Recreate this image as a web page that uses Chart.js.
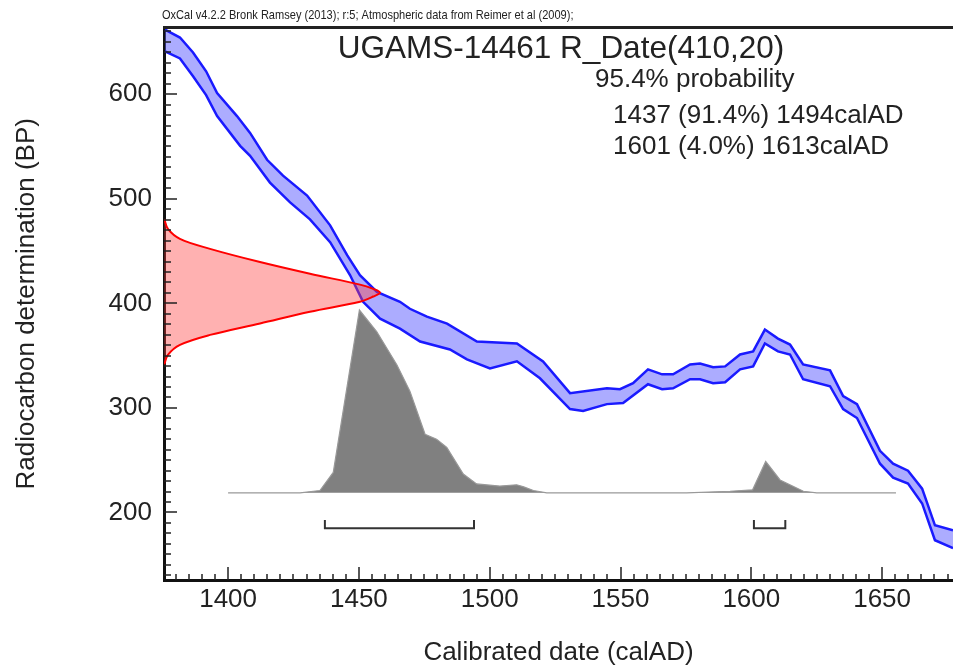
<!DOCTYPE html>
<html>
<head>
<meta charset="utf-8">
<script src="https://cdn.jsdelivr.net/npm/chart.js@4.4.0/dist/chart.umd.min.js"></script>
<style>
  html, body { margin: 0; padding: 0; background: #fff; }
</style>
</head>
<body>
<canvas id="myChart" width="953" height="670"></canvas>
<script>
// calibration curve, upper and lower edge of the band (calAD, BP)
let curveUpYears = [1375.9, 1381.6, 1386.6, 1391.6, 1395.8, 1403.4, 1408.4, 1414.9, 1421.0, 1430.2, 1439.0, 1445.5, 1450.4, 1456.9, 1465.7, 1469.5, 1476.0, 1483.7, 1495.1, 1510.4, 1520.4, 1530.7, 1544.8, 1549.8, 1554.8, 1560.5, 1565.9, 1570.1, 1576.6, 1580.4, 1585.4, 1590.0, 1595.7, 1600.7, 1605.2, 1610.2, 1614.8, 1619.8, 1630.1, 1635.1, 1640.4, 1649.2, 1654.2, 1659.9, 1665.3, 1670.2, 1677.1];
let curveUpBP = [661.8, 654.2, 639.9, 621.9, 601.0, 579.1, 563.0, 537.3, 522.1, 503.1, 474.6, 446.1, 427.0, 411.0, 401.5, 394.8, 387.2, 380.6, 363.5, 361.6, 344.5, 314.1, 318.8, 317.9, 323.6, 336.9, 332.1, 332.1, 341.6, 342.5, 338.8, 339.7, 351.1, 354.0, 374.9, 366.3, 360.6, 341.6, 335.9, 311.2, 303.6, 258.9, 246.6, 239.9, 222.8, 187.7, 182.9];
let curveLoYears = [1375.9, 1381.6, 1386.6, 1391.6, 1395.8, 1404.6, 1408.4, 1416.0, 1423.7, 1431.3, 1439.0, 1446.6, 1451.6, 1458.1, 1465.7, 1473.4, 1484.8, 1491.3, 1500.1, 1510.4, 1519.2, 1530.7, 1535.7, 1544.8, 1551.0, 1560.5, 1565.9, 1570.1, 1576.6, 1580.4, 1585.4, 1590.0, 1595.7, 1600.7, 1605.2, 1610.2, 1614.8, 1619.8, 1630.1, 1635.1, 1640.4, 1649.2, 1654.2, 1659.9, 1665.3, 1670.2, 1677.1];
let curveLoBP = [640.9, 634.2, 617.1, 599.1, 579.1, 550.6, 541.1, 515.5, 496.5, 480.3, 458.5, 427.1, 401.5, 385.3, 375.8, 363.5, 355.9, 346.4, 337.8, 344.5, 328.3, 298.9, 297.0, 303.6, 304.6, 322.6, 317.9, 318.8, 327.4, 327.4, 323.6, 324.5, 336.9, 339.7, 361.6, 354.0, 351.1, 327.4, 320.7, 298.9, 290.3, 246.6, 233.3, 227.6, 208.6, 173.4, 165.8];

// R_Date(410,20) drawn against the BP axis: BP value and how far right (calAD) it reaches
let dateBP =    [480.6, 471.1, 461.6, 452.1, 439.5, 428.3, 417.9, 413.8, 410.3, 406.5, 401.5, 392.0, 380.8, 369.8, 360.3, 350.8, 341.6];
let dateReach = [1375.6, 1377.0, 1381.6, 1393.1, 1412.2, 1431.3, 1450.4, 1455.5, 1458.1, 1455.5, 1450.4, 1431.3, 1412.2, 1393.1, 1381.6, 1377.0, 1375.6];

// calibrated distribution outline
let calYears = [1400, 1427.5, 1435.1, 1440.2, 1450.2, 1456.8, 1464.5, 1469.5, 1475.3, 1479.7, 1483.6, 1489.9, 1495.0, 1503.9, 1510.3, 1513.0, 1516.7, 1521.8, 1575.3, 1591.9, 1600.5, 1605.5, 1611.0, 1619.9, 1625.0, 1655.3];
let calBP =    [218.8, 218.8, 221.0, 238.3, 393.6, 373.0, 341.3, 316.0, 274.8, 270.1, 262.1, 236.8, 227.3, 225.2, 226.5, 224.5, 221.0, 218.8, 218.8, 220.3, 221.6, 248.8, 231.1, 220.3, 218.8, 218.8];

// 95.4% ranges
let rangeFrom = [1437, 1601];
let rangeTo = [1494, 1613];

let xTicks = [1400, 1450, 1500, 1550, 1600, 1650];
let yTicks = [200, 300, 400, 500, 600];

const xMin = 1375.5, xMax = 1677.1;
const yMin = 135.4, yMax = 663.7;
const baseBP = 218.8;
const bracketLow = 184.8, bracketHigh = 192.9;
const FONT = "'Liberation Sans', Arial, sans-serif";

function pts(xs, ys) {
  return xs.map((x, i) => ({x: x, y: ys[i]}));
}

let rangeSets = rangeFrom.map((s, i) => ({
  data: [{x: s, y: bracketHigh}, {x: s, y: bracketLow}, {x: rangeTo[i], y: bracketLow}, {x: rangeTo[i], y: bracketHigh}],
  borderColor: '#333',
  borderWidth: 2,
  pointRadius: 0,
  fill: false
}));

// small ticks inside the frame + top frame line
const innerTicks = {
  id: 'innerTicks',
  afterDatasetsDraw(chart) {
    const {ctx, chartArea: a, scales: {x, y}} = chart;
    ctx.save();
    ctx.strokeStyle = '#222';
    ctx.lineWidth = 1.5;
    ctx.beginPath();
    for (let v = 1380; v < xMax; v += 5) {
      const px = Math.round(x.getPixelForValue(v));
      const len = xTicks.includes(v) ? 13 : 6;
      ctx.moveTo(px, a.bottom);
      ctx.lineTo(px, a.bottom - len);
    }
    for (let v = 140; v < yMax; v += 10) {
      const py = Math.round(y.getPixelForValue(v));
      const len = yTicks.includes(v) ? 13 : 7;
      ctx.moveTo(a.left, py);
      ctx.lineTo(a.left + len, py);
    }
    ctx.stroke();
    ctx.lineWidth = 3;
    ctx.beginPath();
    ctx.moveTo(a.left - 1, a.top);
    ctx.lineTo(a.right, a.top);
    ctx.stroke();
    ctx.restore();
  }
};

// header and result text
const labels = {
  id: 'labels',
  afterDraw(chart) {
    const ctx = chart.ctx;
    ctx.save();
    ctx.fillStyle = '#222';
    ctx.textBaseline = 'alphabetic';
    ctx.save();
    ctx.translate(162, 19);
    ctx.scale(0.85, 1);
    ctx.font = '13px ' + FONT;
    ctx.fillText('OxCal v4.2.2 Bronk Ramsey (2013); r:5; Atmospheric data from Reimer et al (2009);', 0, 0);
    ctx.restore();
    ctx.font = '31.5px ' + FONT;
    ctx.textAlign = 'center';
    ctx.fillText('UGAMS-14461 R_Date(410,20)', 561, 58);
    ctx.textAlign = 'left';
    ctx.font = '26px ' + FONT;
    ctx.fillText('95.4% probability', 595, 87);
    ctx.fillText('1437 (91.4%) 1494calAD', 613, 123);
    ctx.fillText('1601 (4.0%) 1613calAD', 613, 154);
    ctx.restore();
  }
};

let ctx = document.getElementById('myChart').getContext('2d');
let myChart = new Chart(ctx, {
  type: 'line',
  data: {
    datasets: [
      {
        // measured date
        data: pts(dateReach, dateBP),
        borderColor: '#ff0000',
        backgroundColor: 'rgba(255,60,60,0.4)',
        borderWidth: 2,
        pointRadius: 0,
        tension: 0.35,
        fill: 'shape'
      },
      {
        data: pts(curveUpYears, curveUpBP),
        borderColor: '#1a1aff',
        borderWidth: 2.5,
        pointRadius: 0,
        fill: false
      },
      {
        data: pts(curveLoYears, curveLoBP),
        borderColor: '#1a1aff',
        backgroundColor: 'rgba(90,90,255,0.5)',
        borderWidth: 2.5,
        pointRadius: 0,
        fill: '-1'
      },
      {
        data: pts(calYears, calBP),
        borderColor: '#999',
        backgroundColor: '#808080',
        borderWidth: 1.2,
        pointRadius: 0,
        fill: {value: baseBP}
      }
    ].concat(rangeSets)
  },
  options: {
    responsive: false,
    animation: false,
    devicePixelRatio: 1,
    layout: {padding: {top: 24, right: 0, left: 0, bottom: 0}},
    plugins: {legend: {display: false}, tooltip: {enabled: false}},
    scales: {
      x: {
        type: 'linear',
        min: xMin,
        max: xMax,
        afterFit: (s) => { s.height = 90; },
        afterBuildTicks: (s) => { s.ticks = xTicks.map(v => ({value: v})); },
        grid: {display: false, drawTicks: false},
        border: {display: true, color: '#111', width: 3},
        ticks: {color: '#222', font: {size: 26, family: FONT}, padding: 4, maxRotation: 0, callback: (v) => String(v)},
        title: {display: true, text: 'Calibrated date (calAD)', color: '#222', font: {size: 26, family: FONT}, padding: {bottom: 2}}
      },
      y: {
        type: 'linear',
        min: yMin,
        max: yMax,
        afterFit: (s) => { s.width = 164; },
        afterBuildTicks: (s) => { s.ticks = yTicks.map(v => ({value: v})); },
        grid: {display: false, drawTicks: false},
        border: {display: true, color: '#111', width: 3},
        ticks: {color: '#222', font: {size: 26, family: FONT}, padding: 12, callback: (v) => String(v)},
        title: {display: true, text: 'Radiocarbon determination (BP)', color: '#222', font: {size: 26, family: FONT}, padding: {top: 11}}
      }
    }
  },
  plugins: [innerTicks, labels]
});
</script>
</body>
</html>
